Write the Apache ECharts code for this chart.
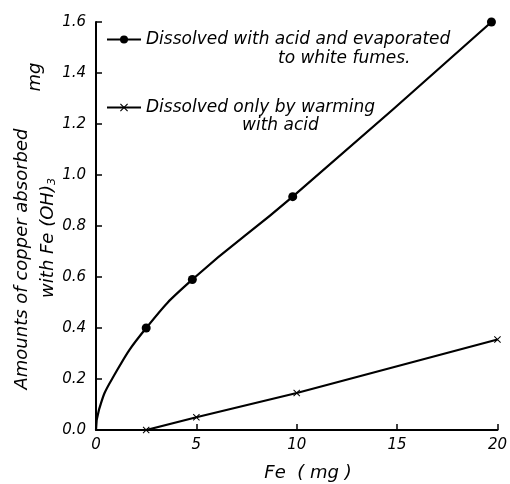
<!DOCTYPE html>
<html><head><meta charset="utf-8">
<script src="https://cdn.jsdelivr.net/npm/echarts@6/dist/echarts.min.js"></script>
<style>html,body{margin:0;padding:0;background:#fff}#c{width:510px;height:484px}</style>
</head><body><div id="c"></div>
<script>
// Series 1: dissolved with acid and evaporated to white fumes (curve)
const fe1 = [0, 0.15, 0.8, 2.5, 4.8, 9.8, 19.7];
const cu1 = [0, 0.08, 0.2, 0.40, 0.59, 0.915, 1.60];
const measured1 = [false, false, false, true, true, true, true];
// Series 2: dissolved only by warming with acid
const fe2 = [2.5, 5, 10, 20];
const cu2 = [0.0, 0.05, 0.145, 0.355];
const xTicks = [0, 5, 10, 15, 20];
const yTicks = [0.0, 0.2, 0.4, 0.6, 0.8, 1.0, 1.2, 1.4, 1.6];
const name1 = 'Dissolved with acid and evaporated';
const name1b = 'to white fumes.';
const name2 = 'Dissolved only by warming';
const name2b = 'with acid';

const FONT = 'DejaVu Sans';
const crossPath = 'path://M0,1L1,0L5,4L9,0L10,1L6,5L10,9L9,10L5,6L1,10L0,9L4,5Z';
const chart = echarts.init(document.getElementById('c'));
const txt = {fontFamily: FONT, fontStyle: 'italic', color: '#000'};
chart.setOption({
  animation: false,
  backgroundColor: '#fff',
  grid: {left: 96, right: 6, top: 22, bottom: 54},
  xAxis: {
    type: 'value', min: 0, max: 20, interval: 5,
    axisLine: {lineStyle: {color: '#000', width: 2}},
    axisTick: {inside: true, length: 6, lineStyle: {color: '#000', width: 1.5}},
    axisLabel: Object.assign({fontSize: 15, margin: 8,
      formatter: v => xTicks.includes(v) ? String(v) : ''}, txt),
    splitLine: {show: false}
  },
  yAxis: {
    type: 'value', min: 0, max: 1.6, interval: 0.2,
    axisLine: {lineStyle: {color: '#000', width: 2}},
    axisTick: {inside: true, length: 6, lineStyle: {color: '#000', width: 1.5}},
    axisLabel: Object.assign({fontSize: 15, margin: 10,
      formatter: v => { const t = yTicks.find(k => Math.abs(k - v) < 1e-6); return t === undefined ? '' : t.toFixed(1); }}, txt),
    splitLine: {show: false}
  },
  legend: [
    {left: 101, top: 26, data: [name1], itemWidth: 34, itemHeight: 10, itemGap: 0,
     textStyle: Object.assign({fontSize: 17}, txt)},
    {left: 101, top: 94, data: [name2], itemWidth: 34, itemHeight: 10, itemGap: 0,
     textStyle: Object.assign({fontSize: 17}, txt)}
  ],
  graphic: [
    {type: 'text', left: 278, top: 50, style: {text: name1b, font: 'italic 17px ' + FONT, fill: '#000'}},
    {type: 'text', left: 242, top: 117, style: {text: name2b, font: 'italic 17px ' + FONT, fill: '#000'}},
    {type: 'text', x: 22, y: 259, rotation: Math.PI / 2,
     style: {text: 'Amounts of copper absorbed', font: 'italic 18px ' + FONT, fill: '#000', align: 'center', verticalAlign: 'middle'}},
    {type: 'text', x: 48, y: 238, rotation: Math.PI / 2,
     style: {text: 'with Fe (OH){s|3}', font: 'italic 18px ' + FONT, fill: '#000', align: 'center', verticalAlign: 'middle',
       rich: {s: {fontSize: 11, fontStyle: 'italic', fontFamily: FONT, verticalAlign: 'bottom', padding: [9, 0, 0, 0]}}}},
    {type: 'text', x: 35, y: 77, rotation: Math.PI / 2,
     style: {text: 'mg', font: 'italic 18px ' + FONT, fill: '#000', align: 'center', verticalAlign: 'middle'}},
    {type: 'text', x: 308, y: 473,
     style: {text: 'Fe  ( mg )', font: 'italic 18px ' + FONT, fill: '#000', align: 'center', verticalAlign: 'middle'}}
  ],
  series: [
    {name: name1, type: 'line', smooth: 0.5,
     symbol: 'circle', symbolSize: 9,
     data: fe1.map((x, i) => measured1[i] ? [x, cu1[i]] : {value: [x, cu1[i]], symbol: 'none'}),
     lineStyle: {color: '#000', width: 2.2}, itemStyle: {color: '#000'}},
    {name: name2, type: 'line', symbol: crossPath, symbolSize: 7,
     data: fe2.map((x, i) => [x, cu2[i]]),
     lineStyle: {color: '#000', width: 2.2}, itemStyle: {color: '#000'}}
  ]
});
</script></body></html>
